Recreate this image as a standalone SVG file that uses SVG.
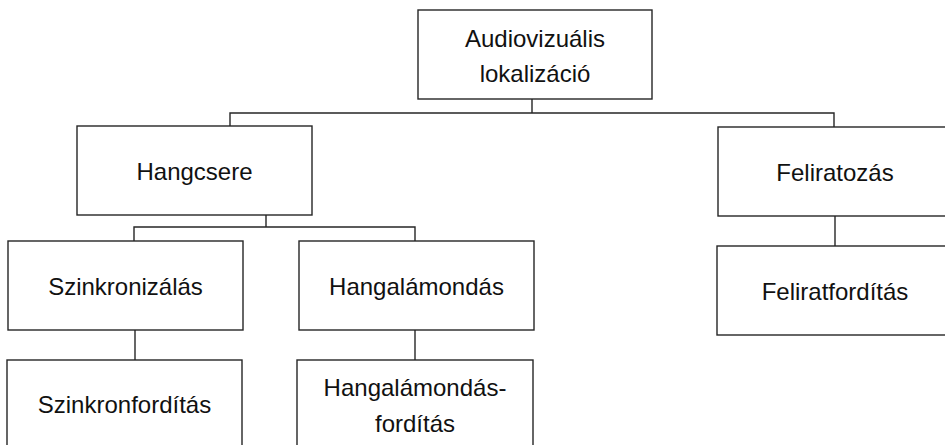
<svg xmlns="http://www.w3.org/2000/svg" width="945" height="445" viewBox="0 0 945 445">
<style>
.box{fill:#fff;stroke:#262626;stroke-width:1.4}
.lbl{font-family:"Liberation Sans",Arial,sans-serif;font-size:24px;fill:#111;text-anchor:middle}
.con{fill:none;stroke:#262626;stroke-width:1.4}
</style>
<rect width="945" height="445" fill="#fff"/>
<g id="connectors">
<path class="con" d="M532,99V113M230,126V113H834V127"/>
<path class="con" d="M266,215V227M134,241V227H415V241"/>
<path class="con" d="M835,216V246"/>
<path class="con" d="M135,330V360"/>
<path class="con" d="M415,330V360"/>
</g>
<g id="root"><rect class="box" x="418" y="10" width="234" height="89"/>
<text class="lbl" x="535" y="47">Audiovizuális</text><text class="lbl" x="535" y="82">lokalizáció</text></g>
<g id="hangcsere"><rect class="box" x="77" y="126" width="235" height="89"/>
<text class="lbl" x="194.5" y="180">Hangcsere</text></g>
<g id="feliratozas"><rect class="box" x="718" y="127" width="234" height="89"/>
<text class="lbl" x="835" y="181">Feliratozás</text></g>
<g id="feliratforditas"><rect class="box" x="717" y="246" width="235" height="89"/>
<text class="lbl" x="835" y="300">Feliratfordítás</text></g>
<g id="szinkronizalas"><rect class="box" x="8" y="241" width="235" height="89"/>
<text class="lbl" x="125.5" y="295">Szinkronizálás</text></g>
<g id="hangalamondas"><rect class="box" x="299" y="241" width="235" height="89"/>
<text class="lbl" x="416.5" y="295">Hangalámondás</text></g>
<g id="szinkronforditas"><rect class="box" x="7" y="360" width="235" height="89"/>
<text class="lbl" x="124.5" y="413">Szinkronfordítás</text></g>
<g id="hangalamondasforditas"><rect class="box" x="297" y="360" width="236" height="89"/>
<text class="lbl" x="415" y="396">Hangalámondás-</text><text class="lbl" x="415" y="432">fordítás</text></g>
</svg>
